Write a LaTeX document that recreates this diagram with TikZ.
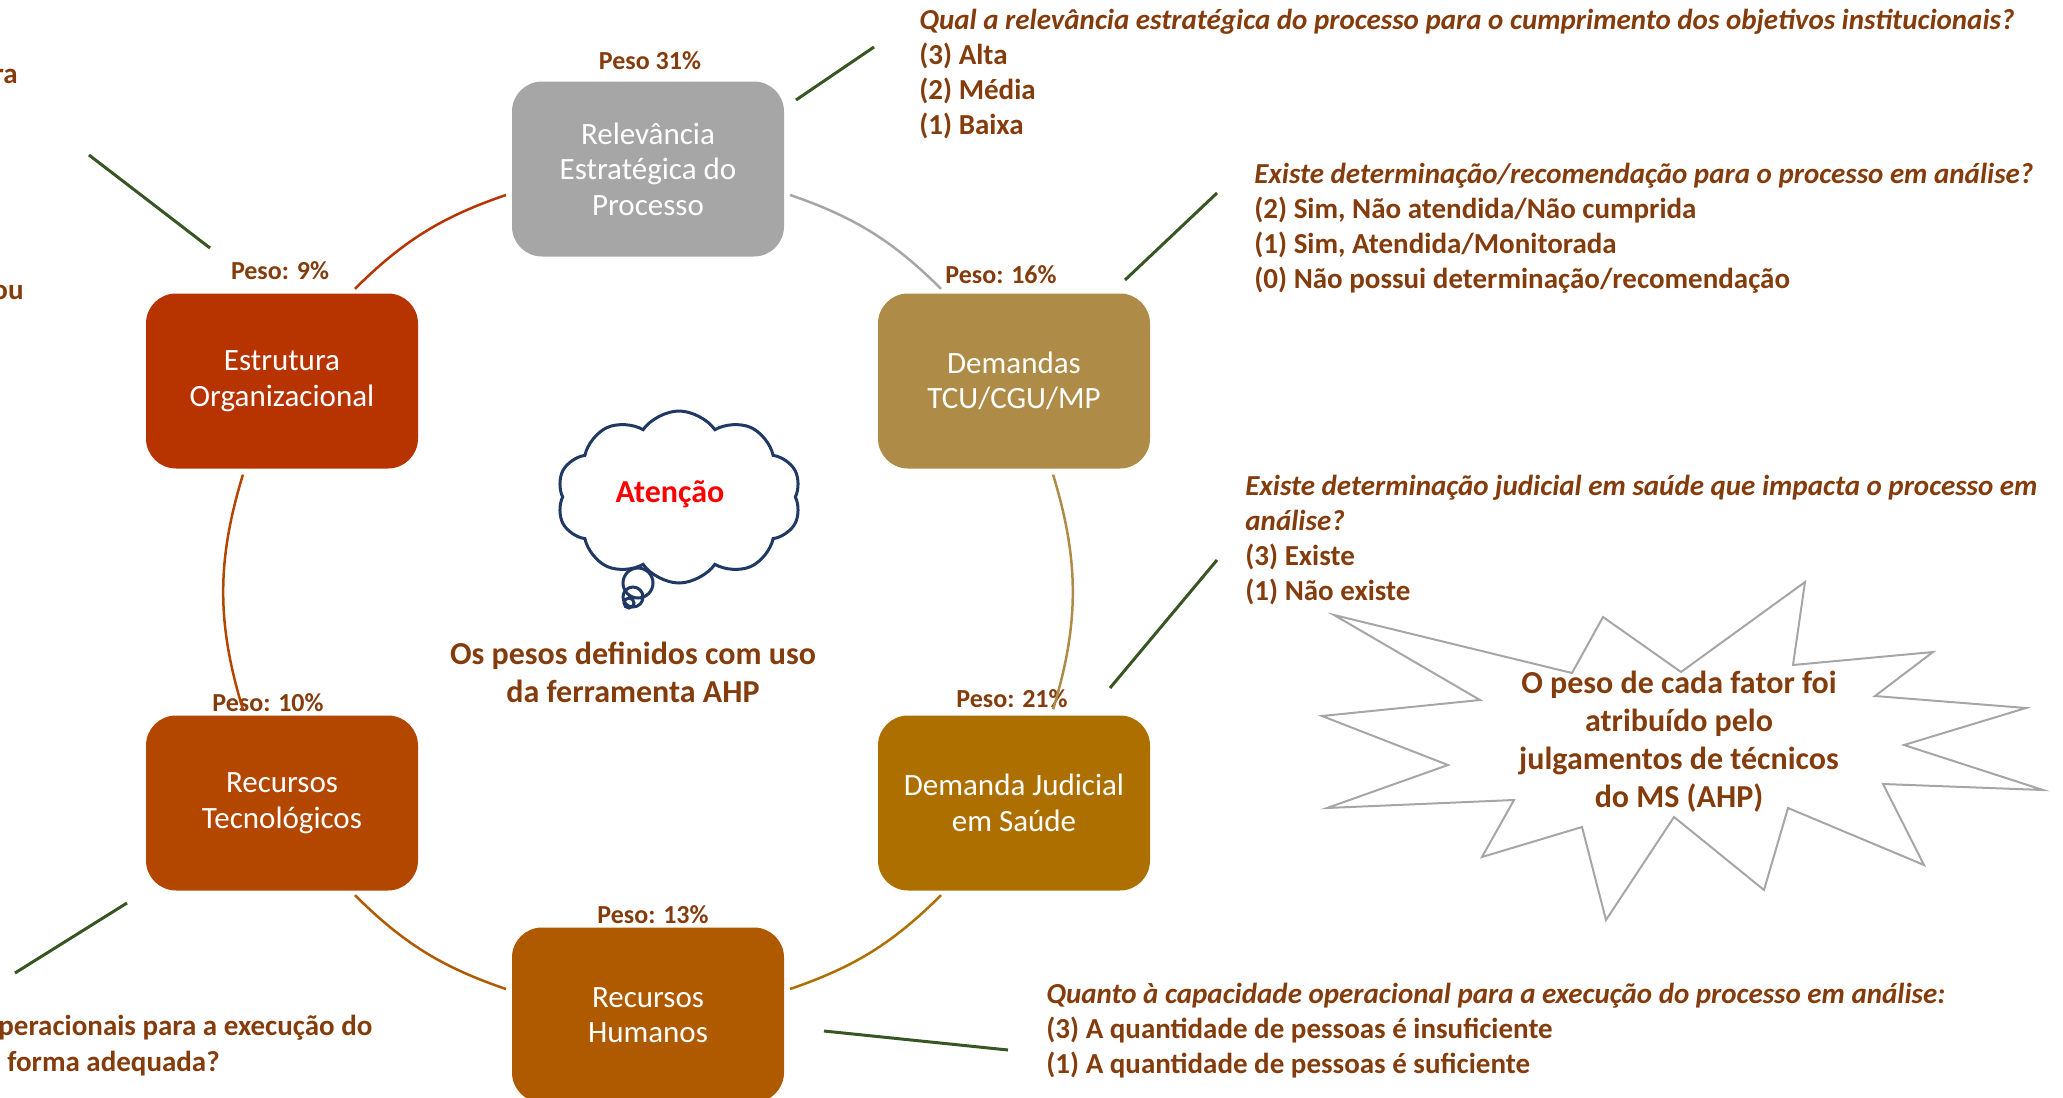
\documentclass[tikz,border=0pt]{standalone}
\usepackage{fontspec}
\setmainfont{Carlito}
\usetikzlibrary{shapes.symbols}

\definecolor{cinza}{HTML}{A6A6A6}
\definecolor{ouro}{HTML}{AE8B46}
\definecolor{mostarda}{HTML}{AD7000}
\definecolor{laranja}{HTML}{B05A00}
\definecolor{ferrugem}{HTML}{B34700}
\definecolor{telha}{HTML}{B73400}
\definecolor{marrom}{HTML}{843C0C}
\definecolor{verde}{HTML}{375623}
\definecolor{marinho}{HTML}{1F3864}

\begin{document}
\begin{tikzpicture}[x=0.5pt, y=-0.5pt,
    fator/.style={rectangle, rounded corners=15pt, minimum width=136pt, minimum height=87.5pt, align=center, text=white, font=\fontsize{15.5}{17.75}\selectfont},
    peso/.style={text=marrom, font=\bfseries\fontsize{13}{15.6}\selectfont, anchor=base, inner sep=0pt},
    pergunta/.style={text=marrom, font=\bfseries\fontsize{14.5}{17.5}\selectfont, align=left, anchor=base west, inner sep=0pt},
    destaque/.style={text=marrom, font=\bfseries\fontsize{16}{18.75}\selectfont, align=center, anchor=base, inner sep=0pt},
    ciclo/.style={line width=1.25pt, shorten <=3pt, shorten >=3pt},
    ligacao/.style={verde, line width=1.5pt}
]

\path[use as bounding box] (0,0) rectangle (2063,1098);
\clip (0,0) rectangle (2063,1098);

\node[fator, fill=cinza] (relevancia) at (648,169) {Relevância\\Estratégica do\\Processo};
\node[fator, fill=ouro] (demandas) at (1014,381) {Demandas\\TCU/CGU/MP};
\node[fator, fill=mostarda] (judicial) at (1014,803) {Demanda Judicial\\em Saúde};
\node[fator, fill=laranja] (humanos) at (648,1015) {Recursos\\Humanos};
\node[fator, fill=ferrugem] (tecnologicos) at (282,803) {Recursos\\Tecnológicos};
\node[fator, fill=telha] (estrutura) at (282,381) {Estrutura\\Organizacional};

\node[peso] (p-rel) at (650,69) {Peso 31\%};
\node[peso] (p-dem) at (1001,283) {Peso: 16\%};
\node[peso] (p-jud) at (1012,707) {Peso: 21\%};
\node[peso] (p-hum) at (653,923) {Peso: 13\%};
\node[peso] (p-tec) at (268,711) {Peso: 10\%};
\node[peso] (p-est) at (280,279) {Peso: 9\%};

\draw[ciclo, cinza] (relevancia.-10) to[bend left=13] (demandas.128);
\draw[ciclo, ouro] (demandas.-67) to[bend left=17] (judicial.67);
\draw[ciclo, mostarda] (judicial.-128) to[bend left=13] (humanos.10);
\draw[ciclo, laranja] (humanos.170) to[bend left=13] (tecnologicos.-52);
\draw[ciclo, ferrugem] (tecnologicos.113) to[bend left=17] (estrutura.-113);
\draw[ciclo, telha] (estrutura.52) to[bend left=13] (relevancia.190);

\node[pergunta] (q-rel) at (919,134) {\textit{Qual a relevância estratégica do processo para o cumprimento dos objetivos institucionais?}\\(3) Alta\\(2) Média\\(1) Baixa};
\node[pergunta] (q-dem) at (1254,288) {\textit{Existe determinação/recomendação para o processo em análise?}\\(2) Sim, Não atendida/Não cumprida\\(1) Sim, Atendida/Monitorada\\(0) Não possui determinação/recomendação};
\node[pergunta] (q-jud) at (1245,600) {\textit{Existe determinação judicial em saúde que impacta o processo em}\\\textit{análise?}\\(3) Existe\\(1) Não existe};
\node[pergunta] (q-hum) at (1046,1073) {\textit{Quanto à capacidade operacional para a execução do processo em análise:}\\(3) A quantidade de pessoas é insuficiente\\(1) A quantidade de pessoas é suficiente};
\node[pergunta, anchor=base east] (q-est) at (18,83) {ra};
\node[pergunta, anchor=base east] (q-est2) at (24,299) {ou};
\node[pergunta] (q-tec) at (-2,1035) {peracionais para a execução do};
\node[pergunta] (q-tec2) at (7,1071) {forma adequada?};

\coordinate (l-rel-a) at (796,100);
\coordinate (l-rel-b) at (874,47);
\coordinate (l-dem-a) at (1125,280);
\coordinate (l-dem-b) at (1217,193);
\coordinate (l-jud-a) at (1110,688);
\coordinate (l-jud-b) at (1217,560);
\coordinate (l-hum-a) at (824,1031);
\coordinate (l-hum-b) at (1008,1050);
\coordinate (l-tec-a) at (127,903);
\coordinate (l-tec-b) at (15,973);
\coordinate (l-est-a) at (210,248);
\coordinate (l-est-b) at (89,155);

\draw[ligacao] (l-rel-a) -- (l-rel-b);
\draw[ligacao] (l-dem-a) -- (l-dem-b);
\draw[ligacao] (l-jud-a) -- (l-jud-b);
\draw[ligacao] (l-hum-a) -- (l-hum-b);
\draw[ligacao] (l-tec-a) -- (l-tec-b);
\draw[ligacao] (l-est-a) -- (l-est-b);

\node[cloud, cloud puffs=10, cloud puff arc=110, aspect=1.4, draw=marinho, line width=1.5pt,
      minimum width=122pt, minimum height=86pt, inner sep=0pt] (nuvem) at (679,497) {};
\node[text=red, font=\bfseries\fontsize{16}{19}\selectfont, anchor=base, inner sep=0pt] (atencao) at (670,502) {Atenção};
\draw[marinho, line width=1.5pt] (638,583) circle[radius=7.5pt] (633,597) circle[radius=5pt] (629,603) circle[radius=2.5pt];

\node[destaque] (nota) at (633,702) {Os pesos definidos com uso\\da ferramenta AHP};

\draw[cinza, line width=1pt] (1334,615) -- (1572,673) -- (1603,617) -- (1681,672) -- (1805,582)
  -- (1793,665) -- (1933,652) -- (1875,696) -- (2026,708) -- (1904,745) -- (2043,790)
  -- (1883,784) -- (1924,865) -- (1788,808) -- (1764,890) -- (1674,817) -- (1606,920)
  -- (1582,827) -- (1482,857) -- (1514,800) -- (1327,808) -- (1448,765) -- (1322,716)
  -- (1480,700) -- cycle;
\node[destaque, font=\bfseries\fontsize{16}{19}\selectfont] (explosao) at (1679,807) {O peso de cada fator foi\\atribuído pelo\\julgamentos de técnicos\\do MS (AHP)};

\end{tikzpicture}
\end{document}
